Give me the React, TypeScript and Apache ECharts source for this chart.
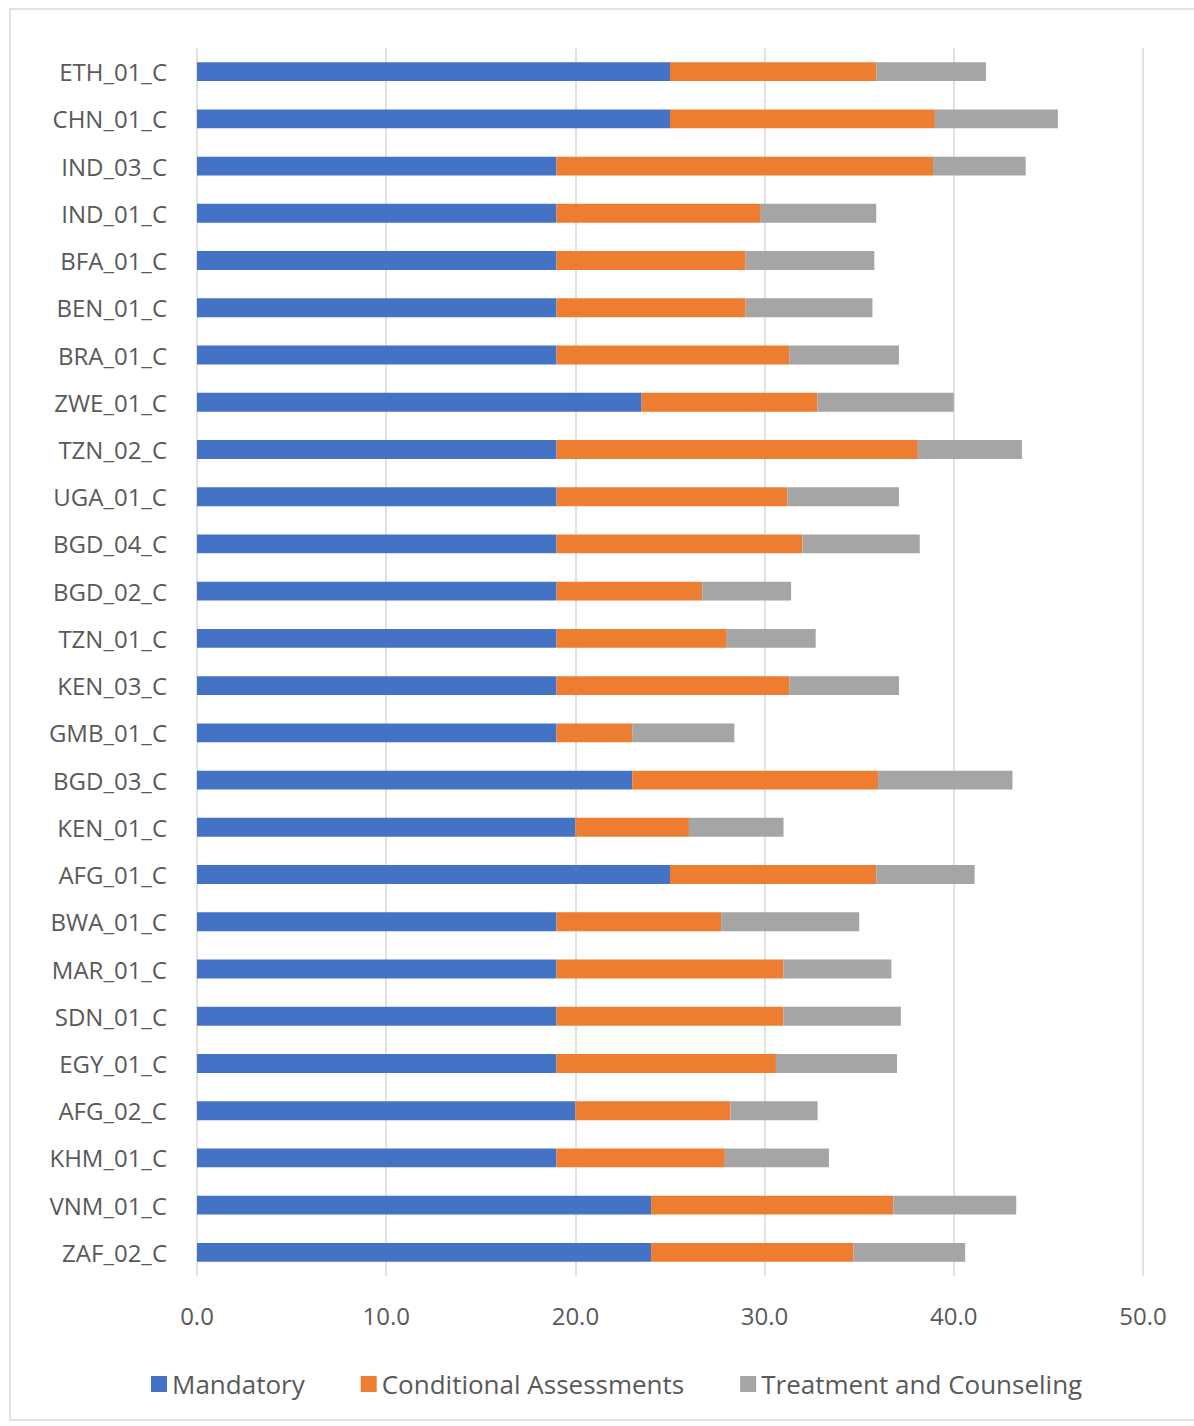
import React, { useEffect, useRef } from "react";
import * as echarts from "echarts";

const categories = [
  "ETH_01_C", "CHN_01_C", "IND_03_C", "IND_01_C", "BFA_01_C", "BEN_01_C", "BRA_01_C",
  "ZWE_01_C", "TZN_02_C", "UGA_01_C", "BGD_04_C", "BGD_02_C", "TZN_01_C", "KEN_03_C",
  "GMB_01_C", "BGD_03_C", "KEN_01_C", "AFG_01_C", "BWA_01_C", "MAR_01_C", "SDN_01_C",
  "EGY_01_C", "AFG_02_C", "KHM_01_C", "VNM_01_C", "ZAF_02_C",
];

const mandatory = [25, 25, 19, 19, 19, 19, 19, 23.5, 19, 19, 19, 19, 19, 19, 19, 23, 20, 25, 19, 19, 19, 19, 20, 19, 24, 24];
const conditional = [10.9, 14.0, 19.9, 10.8, 10.0, 10.0, 12.3, 9.3, 19.1, 12.2, 13.0, 7.7, 9.0, 12.3, 4.0, 13.0, 6.0, 10.9, 8.7, 12.0, 12.0, 11.6, 8.2, 8.9, 12.8, 10.7];
const treatment = [5.8, 6.5, 4.9, 6.1, 6.8, 6.7, 5.8, 7.2, 5.5, 5.9, 6.2, 4.7, 4.7, 5.8, 5.4, 7.1, 5.0, 5.2, 7.3, 5.7, 6.2, 6.4, 4.6, 5.5, 6.5, 5.9];

const seriesNames = ["Mandatory", "Conditional Assessments", "Treatment and Counseling"];
const seriesColors = ["#4472C4", "#ED7D31", "#A5A5A5"];

export default function App() {
  const ref = useRef<HTMLDivElement>(null);
  useEffect(() => {
    if (!ref.current) return;
    const chart = echarts.init(ref.current, null, { renderer: "svg" });
    const font = "'Open Sans', 'Noto Sans', sans-serif";
    const data = [mandatory, conditional, treatment];
    chart.setOption({
      animation: false,
      backgroundColor: "#ffffff",
      graphic: [
        {
          type: "rect",
          shape: { x: 10, y: 9, width: 1200, height: 1411 },
          style: { fill: "none", stroke: "#d9d9d9", lineWidth: 1.5 },
          silent: true,
        },
      ],
      grid: { left: 197, right: 51, top: 48, bottom: 150, containLabel: false },
      xAxis: {
        type: "value",
        min: 0,
        max: 50,
        interval: 10,
        axisLine: { show: false },
        axisTick: { show: false },
        axisLabel: {
          formatter: (v: number) => v.toFixed(1),
          color: "#595959",
          fontSize: 24,
          fontFamily: font,
          margin: 27,
        },
        splitLine: { show: true, lineStyle: { color: "#d9d9d9", width: 1.5 } },
      },
      yAxis: {
        type: "category",
        data: categories,
        inverse: true,
        axisLine: { show: false },
        axisTick: { show: false },
        axisLabel: {
          color: "#595959",
          fontSize: 24,
          fontFamily: font,
          margin: 30,
        },
      },
      legend: {
        bottom: 24,
        left: 146,
        itemWidth: 16,
        itemHeight: 16,
        itemGap: 56,
        icon: "rect",
        textStyle: { color: "#595959", fontSize: 26, fontFamily: font },
        data: seriesNames,
      },
      series: seriesNames.map((name, i) => ({
        name,
        type: "bar",
        stack: "total",
        data: data[i],
        barCategoryGap: "60%",
        itemStyle: { color: seriesColors[i] },
      })),
    });
    return () => chart.dispose();
  }, []);
  return (
    <div
      ref={ref}
      style={{ position: "absolute", left: 0, top: 0, width: 1194, height: 1426 }}
    />
  );
}
